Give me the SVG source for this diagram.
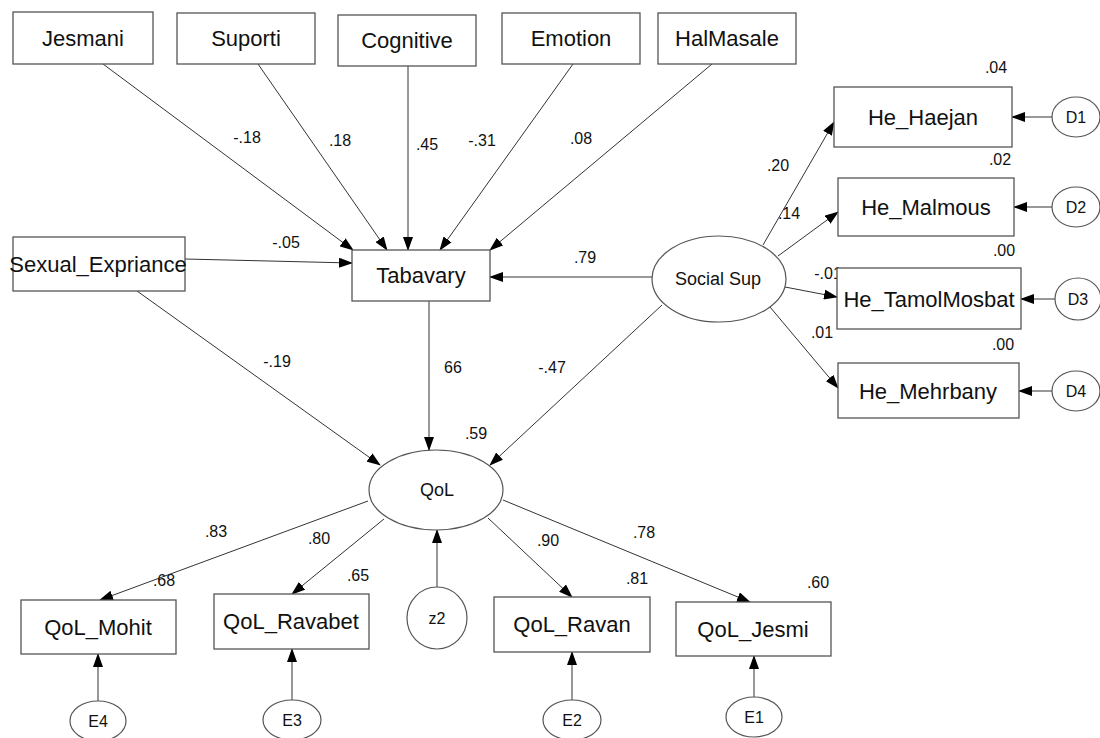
<svg xmlns="http://www.w3.org/2000/svg" width="1100" height="738" viewBox="0 0 1100 738">
<style>
.box{fill:#fff;stroke:#555;stroke-width:1.3}
.ell{fill:#fff;stroke:#555;stroke-width:1.2}
.t{font-family:"Liberation Sans",Arial,sans-serif;font-size:22px;fill:#111;text-anchor:middle}
.te{font-family:"Liberation Sans",Arial,sans-serif;font-size:18px;fill:#111;text-anchor:middle}
.ts{font-family:"Liberation Sans",Arial,sans-serif;font-size:16px;fill:#111;text-anchor:middle}
.lb{font-family:"Liberation Sans",Arial,sans-serif;font-size:16px;fill:#111;text-anchor:middle}
.c{stroke:#333;stroke-width:1;fill:none;marker-end:url(#ah)}
</style>
<defs>
<marker id="ah" markerWidth="14" markerHeight="10" refX="13" refY="5" orient="auto" markerUnits="userSpaceOnUse">
<path d="M0,0 L14,5 L0,10 Z" fill="#000"/>
</marker>
</defs>
<rect width="1100" height="738" fill="#fff"/>
<g id="connectors">
<line class="c" x1="103" y1="64" x2="353" y2="250"/>
<line class="c" x1="258" y1="64" x2="387" y2="250"/>
<line class="c" x1="408" y1="66" x2="408" y2="250"/>
<line class="c" x1="573" y1="64" x2="440" y2="250"/>
<line class="c" x1="712" y1="64" x2="490" y2="250"/>
<line class="c" x1="185" y1="259" x2="352" y2="263"/>
<line class="c" x1="652" y1="277" x2="490" y2="277"/>
<line class="c" x1="429" y1="301" x2="429" y2="450"/>
<line class="c" x1="137" y1="291" x2="380" y2="465"/>
<line class="c" x1="662" y1="305" x2="490" y2="465"/>
<line class="c" x1="763" y1="245" x2="834" y2="122"/>
<line class="c" x1="778" y1="256" x2="838" y2="212"/>
<line class="c" x1="785" y1="287" x2="837" y2="297"/>
<line class="c" x1="770" y1="307" x2="838" y2="388"/>
<line class="c" x1="1052" y1="117" x2="1012" y2="117"/>
<line class="c" x1="1052" y1="207" x2="1014" y2="207"/>
<line class="c" x1="1055" y1="299" x2="1021" y2="299"/>
<line class="c" x1="1052" y1="391" x2="1019" y2="391"/>
<line class="c" x1="368" y1="501" x2="100" y2="600"/>
<line class="c" x1="384" y1="519" x2="292" y2="594"/>
<line class="c" x1="488" y1="518" x2="572" y2="597"/>
<line class="c" x1="503" y1="500" x2="750" y2="602"/>
<line class="c" x1="437" y1="587" x2="437" y2="530"/>
<line class="c" x1="98" y1="701" x2="98" y2="654"/>
<line class="c" x1="292" y1="700" x2="292" y2="649"/>
<line class="c" x1="572" y1="700" x2="572" y2="652"/>
<line class="c" x1="754" y1="697" x2="754" y2="656"/>
</g>
<g id="labels">
<text class="lb" x="247" y="143">-.18</text>
<text class="lb" x="340" y="146">.18</text>
<text class="lb" x="427" y="150">.45</text>
<text class="lb" x="482" y="146">-.31</text>
<text class="lb" x="581" y="144">.08</text>
<text class="lb" x="286" y="248">-.05</text>
<text class="lb" x="585" y="263">.79</text>
<text class="lb" x="277" y="367">-.19</text>
<text class="lb" x="453" y="373">66</text>
<text class="lb" x="552" y="373">-.47</text>
<text class="lb" x="476" y="439">.59</text>
<text class="lb" x="996" y="73">.04</text>
<text class="lb" x="1000" y="165">.02</text>
<text class="lb" x="1004" y="256">.00</text>
<text class="lb" x="1003" y="350">.00</text>
<text class="lb" x="778" y="171">.20</text>
<text class="lb" x="789" y="219">.14</text>
<text class="lb" x="828" y="279">-.01</text>
<text class="lb" x="822" y="338">.01</text>
<text class="lb" x="216" y="537">.83</text>
<text class="lb" x="319" y="544">.80</text>
<text class="lb" x="164" y="586">.68</text>
<text class="lb" x="358" y="581">.65</text>
<text class="lb" x="548" y="546">.90</text>
<text class="lb" x="637" y="584">.81</text>
<text class="lb" x="644" y="538">.78</text>
<text class="lb" x="818" y="588">.60</text>
</g>
<g id="Jesmani"><rect class="box" x="13" y="12" width="140" height="52"/><text class="t" x="83" y="46">Jesmani</text></g>
<g id="Suporti"><rect class="box" x="177" y="13" width="138" height="51"/><text class="t" x="246" y="46">Suporti</text></g>
<g id="Cognitive"><rect class="box" x="338" y="15" width="138" height="51"/><text class="t" x="407" y="48">Cognitive</text></g>
<g id="Emotion"><rect class="box" x="502" y="13" width="138" height="51"/><text class="t" x="571" y="46">Emotion</text></g>
<g id="HalMasale"><rect class="box" x="658" y="13" width="138" height="51"/><text class="t" x="727" y="46">HalMasale</text></g>
<g id="Sexual_Expriance"><rect class="box" x="13" y="237" width="172" height="54"/><text class="t" x="98" y="272">Sexual_Expriance</text></g>
<g id="Tabavary"><rect class="box" x="352" y="250" width="138" height="51"/><text class="t" x="421" y="283">Tabavary</text></g>
<g id="SocialSup"><ellipse class="ell" cx="719" cy="279" rx="67" ry="43"/><text class="te" x="718" y="285">Social Sup</text></g>
<g id="He_Haejan"><rect class="box" x="834" y="87" width="178" height="60"/><text class="t" x="923" y="125">He_Haejan</text></g>
<g id="He_Malmous"><rect class="box" x="838" y="178" width="176" height="58"/><text class="t" x="926" y="215">He_Malmous</text></g>
<g id="He_TamolMosbat"><rect class="box" x="837" y="268" width="184" height="61"/><text class="t" x="929" y="307">He_TamolMosbat</text></g>
<g id="He_Mehrbany"><rect class="box" x="838" y="363" width="181" height="55"/><text class="t" x="928" y="399">He_Mehrbany</text></g>
<g id="D1"><ellipse class="ell" cx="1076" cy="117" rx="24" ry="20"/><text class="ts" x="1076" y="123">D1</text></g>
<g id="D2"><ellipse class="ell" cx="1076" cy="207" rx="24" ry="20"/><text class="ts" x="1076" y="213">D2</text></g>
<g id="D3"><ellipse class="ell" cx="1078" cy="299" rx="23" ry="21"/><text class="ts" x="1078" y="305">D3</text></g>
<g id="D4"><ellipse class="ell" cx="1076" cy="391" rx="24" ry="20"/><text class="ts" x="1076" y="397">D4</text></g>
<g id="QoL"><ellipse class="ell" cx="436" cy="490" rx="67" ry="40"/><text class="te" x="437" y="496">QoL</text></g>
<g id="z2"><ellipse class="ell" cx="437" cy="618" rx="30" ry="31"/><text class="ts" x="437" y="624">z2</text></g>
<g id="QoL_Mohit"><rect class="box" x="21" y="600" width="155" height="54"/><text class="t" x="98" y="635">QoL_Mohit</text></g>
<g id="QoL_Ravabet"><rect class="box" x="214" y="594" width="155" height="55"/><text class="t" x="291" y="629">QoL_Ravabet</text></g>
<g id="QoL_Ravan"><rect class="box" x="494" y="597" width="156" height="55"/><text class="t" x="572" y="632">QoL_Ravan</text></g>
<g id="QoL_Jesmi"><rect class="box" x="676" y="602" width="155" height="54"/><text class="t" x="753" y="637">QoL_Jesmi</text></g>
<g id="E4"><ellipse class="ell" cx="98" cy="721" rx="28" ry="20"/><text class="ts" x="98" y="727">E4</text></g>
<g id="E3"><ellipse class="ell" cx="292" cy="720" rx="29" ry="20"/><text class="ts" x="292" y="726">E3</text></g>
<g id="E2"><ellipse class="ell" cx="572" cy="720" rx="29" ry="20"/><text class="ts" x="572" y="726">E2</text></g>
<g id="E1"><ellipse class="ell" cx="754" cy="717" rx="28" ry="20"/><text class="ts" x="754" y="723">E1</text></g>
</svg>
